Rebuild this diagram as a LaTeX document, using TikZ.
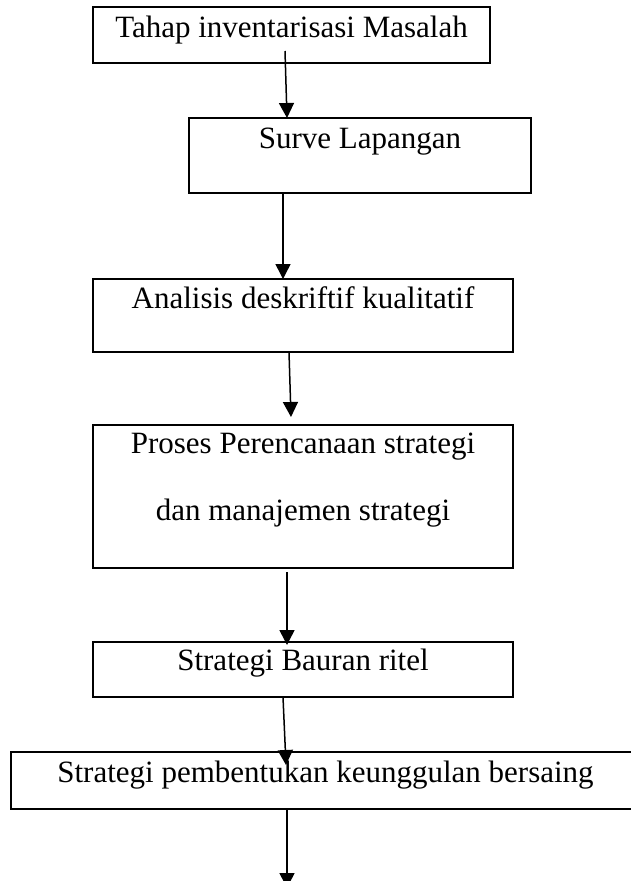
\documentclass[tikz,border=0pt]{standalone}
\usepackage{fontspec}
\setmainfont{Liberation Serif}
\usetikzlibrary{arrows.meta,calc}

\tikzset{
  stagebox/.style={draw=black, line width=2.4pt, rectangle, inner sep=0pt, outer sep=0pt, anchor=north west},
  stagetext/.style={anchor=base, inner sep=0pt, font=\fontsize{31}{37}\selectfont},
  flow/.style={draw=black, line width=1.5pt, -{Triangle[width=15pt,length=15pt]}}
}

\begin{document}
\begin{tikzpicture}[x=1pt, y=-1pt]
  \useasboundingbox (0,0) rectangle (630,881);

  % stage frames
  \node[stagebox, minimum width=397pt, minimum height=56pt]  (b1) at (93,7)   {};
  \node[stagebox, minimum width=342pt, minimum height=75pt]  (b2) at (189,118) {};
  \node[stagebox, minimum width=420pt, minimum height=73pt]  (b3) at (93,279)  {};
  \node[stagebox, minimum width=420pt, minimum height=143pt] (b4) at (93,425)  {};
  \node[stagebox, minimum width=420pt, minimum height=55pt]  (b5) at (93,642)  {};
  \node[stagebox, minimum width=629pt, minimum height=57pt]  (b6) at (11,752)  {};

  % stage labels, set near the top of each frame
  \node[stagetext] (t1)  at ($(b1.north)+(0,30)$) {Tahap inventarisasi Masalah};
  \node[stagetext] (t2)  at ($(b2.north)+(0,30)$) {Surve Lapangan};
  \node[stagetext] (t3)  at ($(b3.north)+(0,29)$) {Analisis deskriftif kualitatif};
  \node[stagetext] (t4a) at ($(b4.north)+(0,28)$) {Proses Perencanaan strategi};
  \node[stagetext] (t4b) at ($(b4.north)+(0,95)$) {dan manajemen strategi};
  \node[stagetext] (t5)  at ($(b5.north)+(0,28)$) {Strategi Bauran ritel};
  \node[stagetext] (t6)  at ($(b6.north)+(0,30)$) {Strategi pembentukan keunggulan bersaing};

  % open end of the last arrow
  \coordinate (next) at ($(b6.south west)+(276,79)$);

  % connectors between stages
  \draw[flow] ($(b1.south west)+(192,-12)$) -- ($(b2.north west)+(98,0)$);
  \draw[flow] ($(b2.south west)+(94,0)$)    -- ($(b3.north west)+(190,0)$);
  \draw[flow] ($(b3.south west)+(196,0)$)   -- ($(b4.north west)+(198,-8)$);
  \draw[flow] ($(b4.south west)+(194,4)$)   -- ($(b5.north west)+(194,3)$);
  \draw[flow] ($(b5.south west)+(190,0)$)   -- ($(b6.north west)+(275,13)$);
  \draw[flow] ($(b6.south west)+(276,0)$)   -- (next);
\end{tikzpicture}
\end{document}
